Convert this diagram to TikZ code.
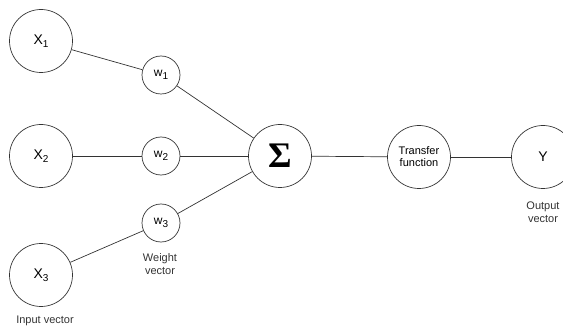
\documentclass[tikz,border=0pt]{standalone}
\usepackage{fontspec}
\setmainfont{Liberation Sans}
\newfontfamily\sigmafont{Liberation Serif}
\tikzset{>={latex}}
\newcommand{\lowsub}[1]{\raisebox{-0.45ex}{\fontsize{10}{10}\selectfont #1}}
\tikzset{
	neuron/.style={draw, circle, minimum size=63pt, inner sep=0pt, font=\fontsize{14}{14}\selectfont},
	weight/.style={draw, circle, minimum size=38pt, inner sep=0pt, font=\fontsize{12}{12}\selectfont},
	caption/.style={align=center, font=\fontsize{11}{13}\selectfont, text=black!80}
}

\begin{document}
\begin{tikzpicture}[x=1pt, y=-1pt, line width=0.7pt, draw=black!80]
		\useasboundingbox (0,0) rectangle (563,334);
		\clip (0,0) rectangle (563,334);

		% inputs
		\node[neuron] (x_1) at (41, 41) {X\lowsub{1}};
		\node[neuron] (x_2) at (41, 156) {X\lowsub{2}};
		\node[neuron] (x_3) at (41, 275) {X\lowsub{3}};

		% weights
		\node[weight] (w_1) at (161, 75) {w\lowsub{1}};
		\node[weight] (w_2) at (161, 156) {w\lowsub{2}};
		\node[weight] (w_3) at (161, 223) {w\lowsub{3}};

		\node[neuron] (sum) at (280, 156) {\sigmafont\bfseries\fontsize{36}{36}\selectfont Σ};
		\node[neuron, font=\fontsize{11}{12}\selectfont, align=center] (transfer) at (419, 157) {Transfer\\function};
		\node[neuron] (y) at (543, 157) {Y};

		\draw (x_1) -- (w_1);
		\draw (x_2) -- (w_2);
		\draw (x_3) -- (w_3);
		\draw (w_1) -- (sum);
		\draw (w_2) -- (sum);
		\draw (w_3) -- (sum);
		\draw (sum) -- (transfer);
		\draw (transfer) -- (y);

		\node[caption] (weight_label) at (160, 264) {Weight\\vector};
		\node[caption] (input_label) at (45, 321) {Input vector};
		\node[caption] (output_label) at (543, 212) {Output\\vector};

	\end{tikzpicture}
\end{document}
